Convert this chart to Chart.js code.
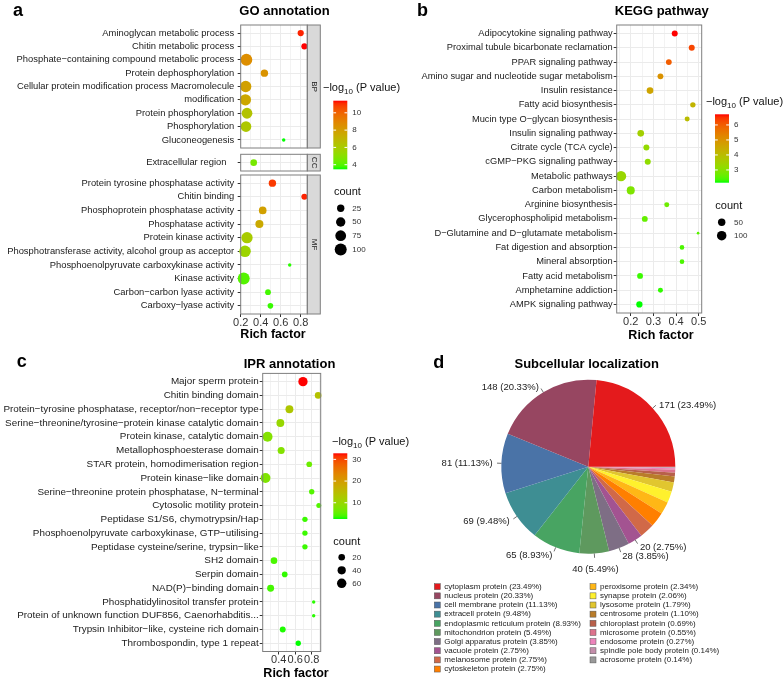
<!DOCTYPE html>
<html>
<head>
<meta charset="utf-8">
<script src="https://cdn.jsdelivr.net/npm/chart.js@4.4.1/dist/chart.umd.min.js"></script>
<style>
  html, body { margin: 0; padding: 0; background: #fff; }
  #wrap { position: relative; width: 784px; height: 681px; overflow: hidden; }
  canvas { position: absolute; left: 0; top: 0; }
</style>
</head>
<body>
<div id="wrap">
  <canvas id="goBP" width="784" height="681"></canvas>
  <canvas id="goCC" width="784" height="681"></canvas>
  <canvas id="goMF" width="784" height="681"></canvas>
  <canvas id="kegg" width="784" height="681"></canvas>
  <canvas id="ipr" width="784" height="681"></canvas>
  <canvas id="pie" width="784" height="681"></canvas>
</div>
<script>
const FAM = "'Liberation Sans', Arial, Helvetica, sans-serif";
Chart.defaults.font.family = FAM;
const W = 784, H = 681;

// ---------- a: GO annotation ----------
const goTerms = [
  "Aminoglycan metabolic process", "Chitin metabolic process",
  "Phosphate\u2212containing compound metabolic process", "Protein dephosphorylation",
  "Cellular protein modification process Macromolecule", "modification",
  "Protein phosphorylation", "Phosphorylation", "Gluconeogenesis",
  "Extracellular region   ",
  "Protein tyrosine phosphatase activity", "Chitin binding",
  "Phosphoprotein phosphatase activity", "Phosphatase activity",
  "Protein kinase activity", "Phosphotransferase activity, alcohol group as acceptor",
  "Phosphoenolpyruvate carboxykinase activity", "Kinase activity",
  "Carbon\u2212carbon lyase activity", "Carboxy\u2212lyase activity"
];
const goOntology = ["BP", "BP", "BP", "BP", "BP", "BP", "BP", "BP", "BP", "CC",
  "MF", "MF", "MF", "MF", "MF", "MF", "MF", "MF", "MF", "MF"];
const goFacets = ["BP", "CC", "MF"];
const goRich = [0.80, 0.837, 0.257, 0.437, 0.25, 0.247, 0.263, 0.253, 0.63, 0.33,
  0.517, 0.837, 0.42, 0.387, 0.263, 0.243, 0.69, 0.23, 0.473, 0.497];
const goLogP = [11.2, 11.4, 8.6, 8.4, 7.9, 7.6, 6.4, 6.2, 3.47, 4.6,
  10.9, 11.2, 7.9, 7.5, 6.0, 5.6, 3.6, 4.0, 3.8, 3.7];
const goCount = [15, 14, 95, 25, 85, 85, 75, 72, 5, 18,
  25, 14, 28, 32, 85, 90, 5, 100, 12, 11];
const goXTicks = [0.2, 0.3, 0.4, 0.5, 0.6, 0.7, 0.8];
const goXLabels = [0.2, 0.4, 0.6, 0.8];
const goColorBreaks = [4, 6, 8, 10];
const goSizeBreaks = [25, 50, 75, 100];

// ---------- b: KEGG pathway ----------
const keggTerms = [
  "Adipocytokine signaling pathway", "Proximal tubule bicarbonate reclamation",
  "PPAR signaling pathway", "Amino sugar and nucleotide sugar metabolism",
  "Insulin resistance", "Fatty acid biosynthesis", "Mucin type O\u2212glycan biosynthesis",
  "Insulin signaling pathway", "Citrate cycle (TCA cycle)", "cGMP\u2212PKG signaling pathway",
  "Metabolic pathways", "Carbon metabolism", "Arginine biosynthesis",
  "Glycerophospholipid metabolism", "D\u2212Glutamine and D\u2212glutamate metabolism",
  "Fat digestion and absorption", "Mineral absorption", "Fatty acid metabolism",
  "Amphetamine addiction", "AMPK signaling pathway"
];
const keggRich = [0.394, 0.469, 0.368, 0.331, 0.285, 0.474, 0.449, 0.244, 0.269, 0.275,
  0.157, 0.2, 0.359, 0.262, 0.497, 0.426, 0.426, 0.241, 0.331, 0.238];
const keggLogP = [6.71, 6.3, 6.0, 5.0, 4.6, 4.2, 4.0, 3.5, 3.2, 3.15,
  3.3, 2.9, 2.7, 2.6, 2.5, 2.4, 2.4, 2.3, 2.25, 2.15];
const keggCount = [26, 26, 24, 24, 36, 18, 14, 36, 26, 26,
  128, 63, 14, 24, 3, 11, 11, 24, 14, 30];
const keggXTicks = [0.15, 0.2, 0.25, 0.3, 0.35, 0.4, 0.45, 0.5];
const keggXLabels = [0.2, 0.3, 0.4, 0.5];
const keggColorBreaks = [3, 4, 5, 6];
const keggSizeBreaks = [50, 100];

// ---------- c: IPR annotation ----------
const iprTerms = [
  "Major sperm protein", "Chitin binding domain",
  "Protein\u2212tyrosine phosphatase, receptor/non\u2212receptor type",
  "Serine\u2212threonine/tyrosine\u2212protein kinase catalytic domain",
  "Protein kinase, catalytic domain", "Metallophosphoesterase domain",
  "STAR protein, homodimerisation region", "Protein kinase\u2212like domain",
  "Serine\u2212threonine protein phosphatase, N\u2212terminal", "Cytosolic motility protein",
  "Peptidase S1/S6, chymotrypsin/Hap", "Phosphoenolpyruvate carboxykinase, GTP\u2212utilising",
  "Peptidase cysteine/serine, trypsin\u2212like", "SH2 domain", "Serpin domain",
  "NAD(P)\u2212binding domain", "Phosphatidylinositol transfer protein",
  "Protein of unknown function DUF856, Caenorhabditis...",
  "Trypsin Inhibitor\u2212like, cysteine rich domain", "Thrombospondin, type 1 repeat"
];
const iprRich = [0.694, 0.878, 0.53, 0.42, 0.265, 0.43, 0.77, 0.24, 0.8, 0.886,
  0.718, 0.718, 0.718, 0.343, 0.473, 0.302, 0.824, 0.824, 0.449, 0.637];
const iprLogP = [32.8, 14, 13, 10, 8, 8, 6, 7.5, 4.5, 4.5,
  3.5, 3.5, 3.5, 4, 3.2, 3.8, 3, 3, 2.8, 2.5];
const iprCount = [58, 20, 35, 35, 70, 25, 12, 70, 10, 8,
  10, 10, 10, 20, 12, 24, 4, 4, 14, 10];
const iprXTicks = [0.3, 0.4, 0.5, 0.6, 0.7, 0.8, 0.9];
const iprXLabels = [0.4, 0.6, 0.8];
const iprColorBreaks = [10, 20, 30];
const iprSizeBreaks = [20, 40, 60];

// ---------- d: Subcellular localization ----------
const locNames = ["cytoplasm protein", "nucleus protein", "cell membrane protein",
  "extracell protein", "endoplasmic reticulum protein", "mitochondrion protein",
  "Golgi apparatus protein", "vacuole protein", "melanosome protein", "cytoskeleton protein",
  "peroxisome protein", "synapse protein", "lysosome protein", "centrosome protein",
  "chloroplast protein", "microsome protein", "endosome protein",
  "spindle pole body protein", "acrosome protein"];
const locCounts = [171, 148, 81, 69, 65, 40, 28, 20, 20, 20, 17, 15, 13, 8, 5, 4, 2, 1, 1];
const locPercent = [23.49, 20.33, 11.13, 9.48, 8.93, 5.49, 3.85, 2.75, 2.75, 2.75,
  2.34, 2.06, 1.79, 1.10, 0.69, 0.55, 0.27, 0.14, 0.14];
const locLabelled = 8;
const locColors = ["#E41A1C", "#974661", "#4A73A7", "#3E8E93", "#48A462", "#5E995E",
  "#7E6E85", "#A35391", "#D16948", "#FF7F00", "#FFB716", "#FFF12D", "#E1C62F",
  "#B97C2A", "#B8604A", "#DC738D", "#EC84BB", "#C38EAA", "#999999"];

// ---------- helpers ----------
function toLin(c) { c /= 255; return c <= 0.04045 ? c / 12.92 : Math.pow((c + 0.055) / 1.055, 2.4); }
function toByte(c) {
  c = c <= 0.0031308 ? 12.92 * c : 1.055 * Math.pow(c, 1 / 2.4) - 0.055;
  return Math.round(Math.max(0, Math.min(1, c)) * 255);
}
function fwd(t) { return t > 0.008856 ? Math.cbrt(t) : 7.787 * t + 16 / 116; }
function inv(t) { return t > 0.206893 ? t * t * t : (t - 16 / 116) / 7.787; }
function rgb2lab(rgb) {
  const r = toLin(rgb[0]), g = toLin(rgb[1]), b = toLin(rgb[2]);
  const X = (0.4124 * r + 0.3576 * g + 0.1805 * b) / 0.95047;
  const Y = 0.2126 * r + 0.7152 * g + 0.0722 * b;
  const Z = (0.0193 * r + 0.1192 * g + 0.9505 * b) / 1.08883;
  return [116 * fwd(Y) - 16, 500 * (fwd(X) - fwd(Y)), 200 * (fwd(Y) - fwd(Z))];
}
function lab2rgb(L, a, b) {
  const fy = (L + 16) / 116, fx = fy + a / 500, fz = fy - b / 200;
  const X = inv(fx) * 0.95047, Y = inv(fy), Z = inv(fz) * 1.08883;
  const r = 3.2406 * X - 1.5372 * Y - 0.4986 * Z;
  const g = -0.9689 * X + 1.8758 * Y + 0.0415 * Z;
  const bb = 0.0557 * X - 0.2040 * Y + 1.0570 * Z;
  return "rgb(" + toByte(r) + "," + toByte(g) + "," + toByte(bb) + ")";
}
const LOW = rgb2lab([0, 255, 0]), HIGH = rgb2lab([255, 0, 0]);
function heat(t) {
  t = Math.max(0, Math.min(1, t));
  return lab2rgb(LOW[0] + (HIGH[0] - LOW[0]) * t, LOW[1] + (HIGH[1] - LOW[1]) * t, LOW[2] + (HIGH[2] - LOW[2]) * t);
}
function colorScale(vals) {
  const lo = Math.min(...vals), hi = Math.max(...vals);
  return { lo, hi, col: v => heat((v - lo) / (hi - lo)) };
}
function sizeScale(counts, rMin, rMax) {
  const lo = Math.min(...counts), hi = Math.max(...counts);
  return c => rMin + (rMax - rMin) * Math.sqrt(Math.max(0, Math.min(1, (c - lo) / (hi - lo))));
}
const isIn = (arr, v) => arr.some(m => Math.abs(m - v) < 1e-6);

const framePlugin = {
  id: "frame",
  afterDatasetsDraw(chart) {
    const a = chart.chartArea, ctx = chart.ctx;
    ctx.save();
    ctx.strokeStyle = "#7f7f7f";
    ctx.lineWidth = 1;
    ctx.strokeRect(a.left, a.top, a.right - a.left, a.bottom - a.top);
    ctx.restore();
  }
};
function stripPlugin(text) {
  return {
    id: "strip",
    afterDatasetsDraw(chart) {
      const a = chart.chartArea, ctx = chart.ctx;
      ctx.save();
      ctx.fillStyle = "#D9D9D9";
      ctx.fillRect(a.right, a.top, 13, a.bottom - a.top);
      ctx.strokeStyle = "#7f7f7f";
      ctx.lineWidth = 1;
      ctx.strokeRect(a.right, a.top, 13, a.bottom - a.top);
      ctx.translate(a.right + 6.5, (a.top + a.bottom) / 2);
      ctx.rotate(Math.PI / 2);
      ctx.font = "8px " + FAM;
      ctx.fillStyle = "#1a1a1a";
      ctx.textAlign = "center";
      ctx.textBaseline = "middle";
      ctx.fillText(text, 0, 0);
      ctx.restore();
    }
  };
}
function textPlugin(fn) {
  return { id: "txt", afterDraw(chart) { chart.ctx.save(); fn(chart.ctx, chart); chart.ctx.restore(); } };
}
function boldText(ctx, s, size, x, y, align) {
  ctx.font = "bold " + size + "px " + FAM;
  ctx.fillStyle = "#000";
  ctx.textAlign = align || "center";
  ctx.textBaseline = "alphabetic";
  ctx.fillText(s, x, y);
}
function drawLegends(ctx, L) {
  ctx.textBaseline = "middle";
  ctx.textAlign = "left";
  ctx.fillStyle = "#111";
  ctx.font = "11px " + FAM;
  let x = L.titleX;
  ctx.fillText("\u2212log", x, L.titleY); x += ctx.measureText("\u2212log").width;
  ctx.font = "8px " + FAM;
  ctx.fillText("10", x, L.titleY + 3); x += ctx.measureText("10").width;
  ctx.font = "11px " + FAM;
  ctx.fillText(" (P value)", x, L.titleY);
  const bw = 14, bh = L.barBottom - L.barTop;
  const g = ctx.createLinearGradient(0, L.barBottom, 0, L.barTop);
  for (let k = 0; k <= 24; k++) g.addColorStop(k / 24, heat(k / 24));
  ctx.fillStyle = g;
  ctx.fillRect(L.barX, L.barTop, bw, bh);
  ctx.font = "8px " + FAM;
  L.colorBreaks.forEach(b => {
    const y = L.barBottom - (b - L.cs.lo) / (L.cs.hi - L.cs.lo) * bh;
    ctx.strokeStyle = "#fff";
    ctx.lineWidth = 1;
    ctx.beginPath();
    ctx.moveTo(L.barX, y); ctx.lineTo(L.barX + 2.8, y);
    ctx.moveTo(L.barX + bw - 2.8, y); ctx.lineTo(L.barX + bw, y);
    ctx.stroke();
    ctx.fillStyle = "#333";
    ctx.fillText(String(b), L.barX + 19, y);
  });
  ctx.font = "11px " + FAM;
  ctx.fillStyle = "#111";
  ctx.fillText("count", L.countX, L.countY);
  L.sizeBreaks.forEach((c, k) => {
    const y = L.dotY0 + k * L.dotDy;
    ctx.fillStyle = "#000";
    ctx.beginPath();
    ctx.arc(L.dotX, y, L.size(c), 0, 2 * Math.PI);
    ctx.fill();
    ctx.font = "8px " + FAM;
    ctx.fillStyle = "#333";
    ctx.fillText(String(c), L.barX + 19, y);
  });
}

function dotChart(id, p) {
  const n = p.labels.length;
  return new Chart(document.getElementById(id), {
    type: "bubble",
    data: {
      datasets: [{
        data: p.labels.map((l, i) => ({ x: p.rich[i], y: i, r: p.size(p.count[i]) })),
        backgroundColor: p.logP.map(v => p.cs.col(v)),
        borderWidth: 0,
        hoverBorderWidth: 0,
        clip: false
      }]
    },
    options: {
      responsive: false,
      animation: false,
      events: [],
      layout: {
        autoPadding: false,
        padding: { left: 0, top: p.top, right: W - p.right, bottom: H - p.bottom - p.xh }
      },
      plugins: { legend: { display: false }, tooltip: { enabled: false } },
      scales: {
        x: {
          type: "linear", min: p.xMin, max: p.xMax,
          afterBuildTicks: s => { s.ticks = p.xTicks.filter(v => v >= p.xMin && v <= p.xMax).map(v => ({ value: v })); },
          afterFit: s => { s.height = p.xh; },
          ticks: {
            display: p.showX, autoSkip: false, maxRotation: 0, padding: 0,
            color: "#333", font: { size: 11, lineHeight: 1 },
            callback: v => isIn(p.xLabels, v) ? v.toFixed(1) : ""
          },
          grid: {
            color: "#EBEBEB",
            lineWidth: c => isIn(p.xLabels, c.tick.value) ? 1 : 0.6,
            drawTicks: p.showX, tickLength: 3,
            tickColor: c => isIn(p.xLabels, c.tick.value) ? "#333" : "rgba(0,0,0,0)"
          },
          border: { display: false }
        },
        y: {
          type: "linear", reverse: true, min: -0.6, max: n - 0.4,
          afterBuildTicks: s => { s.ticks = p.labels.map((l, i) => ({ value: i })); },
          afterFit: s => { s.width = p.left; },
          ticks: {
            autoSkip: false, padding: p.labPad, color: "#1a1a1a",
            font: { size: p.labSize },
            callback: v => p.labels[v]
          },
          grid: { color: "#EBEBEB", lineWidth: 1, tickLength: 3, tickColor: "#333" },
          border: { display: false }
        }
      }
    },
    plugins: p.plugins
  });
}

// ---------- panel a ----------
const goCS = colorScale(goLogP);
const goSize = sizeScale(goCount, 1.74, 6);
const goBoxes = { BP: [25, 148, 0], CC: [154.3, 171, 0], MF: [175, 314, 22] };
goFacets.forEach(f => {
  const idx = goTerms.map((t, i) => i).filter(i => goOntology[i] === f);
  const plugins = [stripPlugin(f), framePlugin];
  if (f === "BP") {
    plugins.push(textPlugin(ctx => {
      boldText(ctx, "a", 18, 13, 16, "left");
      boldText(ctx, "GO annotation", 13, 284.5, 15);
      drawLegends(ctx, {
        cs: goCS, size: goSize, colorBreaks: goColorBreaks, sizeBreaks: goSizeBreaks,
        titleX: 323, titleY: 88.3, barX: 333.3, barTop: 100.7, barBottom: 169.3,
        countX: 334, countY: 191.7, dotX: 340.7, dotY0: 208.3, dotDy: 13.7
      });
    }));
  }
  if (f === "MF") {
    plugins.push(textPlugin(ctx => boldText(ctx, "Rich factor", 12.5, 273, 338.3)));
  }
  dotChart("go" + f, {
    labels: idx.map(i => goTerms[i]), rich: idx.map(i => goRich[i]),
    logP: idx.map(i => goLogP[i]), count: idx.map(i => goCount[i]),
    cs: goCS, size: goSize,
    left: 240.7, right: 307.3, top: goBoxes[f][0], bottom: goBoxes[f][1], xh: goBoxes[f][2],
    showX: f === "MF", xMin: 0.2, xMax: 0.866, xTicks: goXTicks, xLabels: goXLabels,
    labSize: 9.4, labPad: 3.5, plugins
  });
});

// ---------- panel b ----------
const keggCS = colorScale(keggLogP);
const keggSize = sizeScale(keggCount, 1.35, 5.2);
dotChart("kegg", {
  labels: keggTerms, rich: keggRich, logP: keggLogP, count: keggCount,
  cs: keggCS, size: keggSize,
  left: 616.7, right: 701.7, top: 25, bottom: 313, xh: 22,
  showX: true, xMin: 0.138, xMax: 0.513, xTicks: keggXTicks, xLabels: keggXLabels,
  labSize: 9.3, labPad: 1,
  plugins: [framePlugin, textPlugin(ctx => {
    boldText(ctx, "b", 18, 417, 16, "left");
    boldText(ctx, "KEGG pathway", 13, 661.7, 15);
    boldText(ctx, "Rich factor", 12.5, 661, 339);
    drawLegends(ctx, {
      cs: keggCS, size: keggSize, colorBreaks: keggColorBreaks, sizeBreaks: keggSizeBreaks,
      titleX: 706, titleY: 102.3, barX: 715, barTop: 114.3, barBottom: 182.7,
      countX: 715.3, countY: 205.7, dotX: 721.7, dotY0: 222.3, dotDy: 13.4
    });
  })]
});

// ---------- panel c ----------
const iprCS = colorScale(iprLogP);
const iprSize = sizeScale(iprCount, 1.7, 4.96);
dotChart("ipr", {
  labels: iprTerms, rich: iprRich, logP: iprLogP, count: iprCount,
  cs: iprCS, size: iprSize,
  left: 262.7, right: 320.7, top: 373.4, bottom: 651.5, xh: 22,
  showX: true, xMin: 0.206, xMax: 0.909, xTicks: iprXTicks, xLabels: iprXLabels,
  labSize: 9.9, labPad: 1,
  plugins: [framePlugin, textPlugin(ctx => {
    boldText(ctx, "c", 18, 16.7, 367.3, "left");
    boldText(ctx, "IPR annotation", 13, 289.5, 367.7);
    boldText(ctx, "Rich factor", 12.5, 296, 677);
    drawLegends(ctx, {
      cs: iprCS, size: iprSize, colorBreaks: iprColorBreaks, sizeBreaks: iprSizeBreaks,
      titleX: 332, titleY: 442.3, barX: 333.3, barTop: 453.3, barBottom: 519,
      countX: 333.3, countY: 541.7, dotX: 341.7, dotY0: 557.3, dotDy: 13
    });
  })]
});

// ---------- panel d ----------
// slices run anticlockwise from 3 o'clock, so feed them reversed and draw clockwise
const pieDecor = {
  id: "pieDecor",
  afterDatasetsDraw(chart) {
    const ctx = chart.ctx, meta = chart.getDatasetMeta(0), n = locNames.length;
    ctx.save();
    ctx.font = "9.5px " + FAM;
    ctx.fillStyle = "#222";
    ctx.strokeStyle = "#333";
    ctx.lineWidth = 0.7;
    ctx.textBaseline = "middle";
    for (let i = 0; i < locLabelled; i++) {
      const arc = meta.data[n - 1 - i];
      const mid = (arc.startAngle + arc.endAngle) / 2, R = arc.outerRadius;
      const c = Math.cos(mid), s = Math.sin(mid);
      ctx.beginPath();
      ctx.moveTo(arc.x + R * c, arc.y + R * s);
      ctx.lineTo(arc.x + 1.05 * R * c, arc.y + 1.05 * R * s);
      ctx.stroke();
      const txt = locCounts[i] + " (" + locPercent[i].toFixed(2) + "%)";
      let k = 1.1;
      if (Math.abs(c) < 0.2) { ctx.textAlign = "center"; k = 1.18; }
      else ctx.textAlign = c < 0 ? "right" : "left";
      ctx.fillText(txt, arc.x + k * R * c, arc.y + k * R * s + (s < -0.5 ? 3 : 0));
    }
    // legend in two columns
    ctx.font = "8px " + FAM;
    ctx.textAlign = "left";
    locNames.forEach((name, i) => {
      const col = i < 10 ? 0 : 1, row = i < 10 ? i : i - 10;
      const sx = col ? 590 : 434.3, y = 586.7 + row * 9.15;
      ctx.fillStyle = locColors[i];
      ctx.fillRect(sx, y - 3, 6, 6);
      ctx.strokeStyle = "#555";
      ctx.lineWidth = 0.5;
      ctx.strokeRect(sx, y - 3, 6, 6);
      ctx.fillStyle = "#222";
      ctx.fillText(name + " (" + locPercent[i].toFixed(2) + "%)", sx + 10, y);
    });
    ctx.restore();
  }
};
new Chart(document.getElementById("pie"), {
  type: "pie",
  data: {
    labels: locNames.slice().reverse(),
    datasets: [{
      data: locCounts.slice().reverse(),
      backgroundColor: locColors.slice().reverse(),
      borderWidth: 0
    }]
  },
  options: {
    responsive: false,
    animation: false,
    events: [],
    rotation: 90,
    layout: { autoPadding: false, padding: { left: 501.3, right: W - 675.3, top: 379.7, bottom: H - 553.7 } },
    plugins: { legend: { display: false }, tooltip: { enabled: false } }
  },
  plugins: [pieDecor, textPlugin(ctx => {
    boldText(ctx, "d", 18, 433.3, 367.7, "left");
    boldText(ctx, "Subcellular localization", 13, 586.7, 367.7);
  })]
});
</script>
</body>
</html>
